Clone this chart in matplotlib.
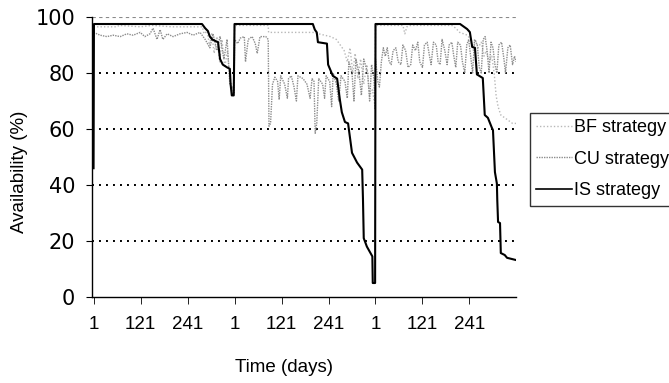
import matplotlib
matplotlib.use('Agg')
import matplotlib.pyplot as plt
from matplotlib.lines import Line2D

plt.rcParams['font.family'] = ['Liberation Sans', 'DejaVu Sans']

# day index over three 360-day cycles
is_days = [0, 1, 277, 285, 292, 297, 303, 310, 318, 323, 330, 341, 348, 350, 353, 358,
           360, 560, 565, 570, 573, 596, 599, 611, 622, 629, 634, 642, 650, 660, 673, 686,
           688, 690, 698, 706, 712, 713, 719,
           720, 936, 954, 961, 967, 974, 979, 994, 999, 1007, 1017, 1020, 1025, 1030,
           1031, 1033, 1038, 1040, 1050, 1056, 1079]
is_vals = [46, 97.5, 97.5, 96, 95, 93, 92, 91.5, 91, 85, 83, 82, 81.5, 76, 72, 72,
           97.5, 97.5, 95.5, 94.5, 91, 90.5, 83, 79, 78, 70.5, 66, 62.5, 62, 51.5, 48, 45.5,
           35, 21, 18, 16, 14.5, 5, 5,
           97.5, 97.5, 95.7, 94.6, 89.3, 89, 79.5, 78.2, 65, 64, 60.5, 59.6, 44.6, 40.5,
           34.6, 26.8, 26.4, 15.7, 15, 14, 13.2]

cu_days = [0, 17, 34, 50, 68, 85, 101, 119, 131, 144, 152, 162, 170, 177, 188, 203,
           221, 239, 254, 272, 285, 297, 305, 315, 323, 333, 341, 348, 356, 359,
           360, 368, 375, 385, 388, 395, 405, 413, 418, 425, 440, 446, 448, 452, 457,
           463, 470, 474, 478, 488, 495, 498, 505, 512, 518, 522, 535, 545, 553, 558,
           563, 566, 570, 575, 585, 590, 594, 603, 608, 612, 620, 626, 632, 642, 648,
           652, 660, 665, 670, 678, 684, 690, 700, 705, 710, 716, 719,
           720, 726, 730, 735, 740, 745, 750, 755, 760, 765, 772, 778, 785, 790, 797,
           803, 810, 815, 822, 828, 833, 840, 845, 852, 858, 862, 868, 875, 880, 885,
           890, 897, 903, 908, 915, 920, 925, 930, 937, 942, 948, 953, 958, 963, 968,
           973, 980, 985, 990, 995, 1000, 1005, 1010, 1015, 1020, 1025, 1030, 1035,
           1042, 1048, 1052, 1058, 1064, 1070, 1075, 1079]
cu_vals = [94.5, 93.5, 93, 93.5, 93, 94, 93.5, 94.5, 93, 94, 96, 92, 95.5, 92, 94, 93,
           94, 94.5, 93.5, 94.5, 92, 89, 94, 88, 93, 85, 92, 76, 74, 73,
           92, 90.5, 92.5, 93, 84, 92, 93, 90.5, 87, 93, 93, 92, 61, 62, 76,
           78.5, 77, 70.5, 79, 76, 71, 78, 79, 75, 70, 79, 78, 76, 71, 78,
           77, 58.5, 62, 78, 76, 71, 79, 77, 68, 80, 76, 70, 79, 77, 71,
           84, 80, 70, 85, 80, 72, 85, 80, 70, 83, 78, 67,
           85, 77, 75, 84, 89, 86, 89, 84, 83, 88, 89, 84, 83, 90, 88,
           82, 83, 90, 88, 91, 84, 82, 90, 91, 86, 83, 91, 90, 84, 83,
           92, 88, 83, 90, 91, 86, 82, 91, 90, 84, 80, 90, 92, 86, 80,
           92, 90, 82, 80, 92, 93, 88, 80, 91, 89, 83, 80, 90,
           91, 85, 80, 89, 90, 83, 86, 84]

bf_days = [0, 60, 65, 120, 150, 200, 278, 282, 290, 296, 302, 308, 315, 322, 328, 335,
           342, 348, 355, 359,
           360, 446, 447, 560, 575, 590, 605, 620, 630, 640, 648, 655, 662, 668, 675,
           682, 690, 698, 705, 712, 719,
           720, 790, 795, 800, 810, 915, 925, 935, 945, 955, 962, 970, 975, 982, 990,
           997, 1003, 1010, 1017, 1023, 1028, 1033, 1040, 1050, 1060, 1070, 1079]
bf_vals = [96.5, 96.5, 97, 96.5, 97, 96.5, 96.5, 94, 95, 90, 94, 87, 93, 84, 92, 82,
           88, 78, 75, 74,
           97, 97, 94.5, 94.5, 94, 93.5, 93, 92, 90, 88, 84, 89, 80, 87, 78,
           85, 76, 83, 72, 74, 68,
           97, 97, 94, 96.5, 97, 97, 96, 94.5, 94, 93.5, 92, 88, 92, 89, 91,
           86, 88, 84, 86, 80, 72, 68, 65, 64, 63, 62, 62]

tick_pos = [0, 120, 240, 360, 480, 600, 720, 840, 960]
tick_labels = ['1', '121', '241', '1', '121', '241', '1', '121', '241']
y_ticks = [0, 20, 40, 60, 80, 100]

fig = plt.figure(figsize=(6.69, 3.83), dpi=100)
ax = fig.add_axes([0.1375, 0.2245, 0.6345, 0.7311])

# gridlines
for y in [20, 40, 60, 80]:
    ax.axhline(y, color='black', lw=1.4, ls=(0, (1, 2.6)), zorder=1)
ax.axhline(100, color='#8a8a8a', lw=0.8, ls=(0, (3, 3)), zorder=1)

ax.plot(bf_days, bf_vals, color='#b8b8b8', lw=1.0, ls=(0, (1, 1.5)), zorder=2)
ax.plot(cu_days, cu_vals, color='#8c8c8c', lw=1.0, ls=(0, (1, 0.8)), zorder=3)
ax.plot(is_days, is_vals, color='black', lw=1.5, zorder=4)

ax.set_xlim(-4, 1080)
ax.set_ylim(0, 100)
ax.set_xticks(tick_pos)
ax.set_xticklabels(tick_labels, fontsize=13.5)
ax.set_yticks(y_ticks)
ax.set_yticklabels([str(v) for v in y_ticks], fontsize=15, family='DejaVu Sans')
ax.tick_params(axis='x', direction='out', length=5, width=0.6, pad=9, colors='black')
ax.tick_params(axis='y', direction='out', length=4, width=0.8, pad=8)

for side in ['top', 'right']:
    ax.spines[side].set_visible(False)
ax.spines['left'].set_linewidth(1.0)
ax.spines['bottom'].set_linewidth(1.0)

ax.set_xlabel('Time (days)', fontsize=13.5)
ax.xaxis.set_label_coords(0.452, -0.222)
ax.set_ylabel('Availability (%)', fontsize=13.5)
ax.yaxis.set_label_coords(-0.15, 0.446)

handles = [
    Line2D([], [], color='#b8b8b8', lw=1.0, ls=(0, (1, 1.5))),
    Line2D([], [], color='#8c8c8c', lw=1.0, ls=(0, (1, 0.8))),
    Line2D([], [], color='black', lw=1.2),
]
leg = fig.legend(handles, ['BF strategy', 'CU strategy', 'IS strategy'],
                 loc='upper left', bbox_to_anchor=(530 / 669, 1 - 113 / 383),
                 fontsize=13, frameon=True, fancybox=False, handlelength=2.0,
                 handletextpad=0.1, borderpad=0.35, labelspacing=0.8, borderaxespad=0)
leg.get_frame().set_edgecolor('black')
leg.get_frame().set_linewidth(1.0)

fig.savefig('out.png', dpi=100)
